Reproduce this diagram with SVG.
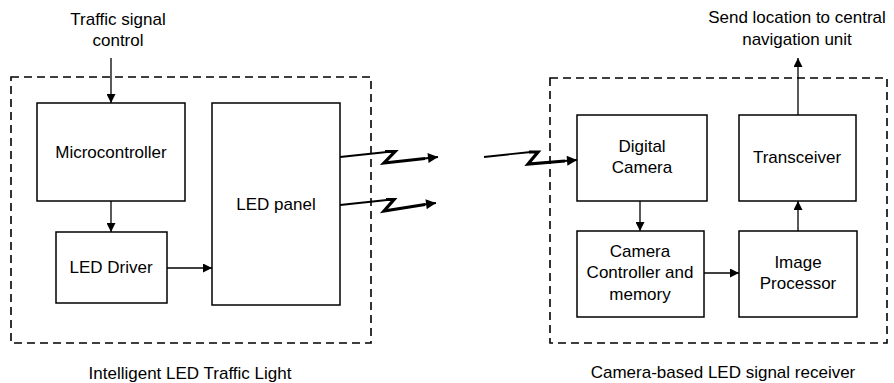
<svg xmlns="http://www.w3.org/2000/svg" width="894" height="383" viewBox="0 0 894 383">
<style>
text{font-family:"Liberation Sans",Arial,sans-serif;font-size:17px;fill:#000;text-anchor:middle}
.box{fill:#fff;stroke:#000;stroke-width:1.5}
.dash{fill:none;stroke:#000;stroke-width:1.6;stroke-dasharray:8 5}
.conn{fill:none;stroke:#000;stroke-width:1.3}
.bolt{fill:none;stroke:#000;stroke-width:1.8}
.zig{fill:none;stroke:#000;stroke-width:3.2;stroke-linejoin:miter}
</style>
<defs>
<marker id="ah" viewBox="0 0 10 10" refX="10" refY="5" markerWidth="9" markerHeight="9" markerUnits="userSpaceOnUse" orient="auto">
<path d="M0,0 L10,5 L0,10 z" fill="#000"/>
</marker>
<marker id="ahb" viewBox="0 0 10 10" refX="10" refY="5" markerWidth="12" markerHeight="10" markerUnits="userSpaceOnUse" orient="auto">
<path d="M0,0 L10,5 L0,10 z" fill="#000"/>
</marker>
</defs>
<rect x="0" y="0" width="894" height="383" fill="#fff"/>
<g id="group-left">
<rect class="dash" x="11" y="77" width="360" height="266"/>
<text x="190" y="379">Intelligent LED Traffic Light</text>
</g>
<g id="group-right">
<rect class="dash" x="550" y="78" width="337" height="265"/>
<text x="723" y="378">Camera-based LED signal receiver</text>
</g>
<g id="input-label"><text x="118" y="25">Traffic signal</text><text x="118" y="46">control</text></g>
<g id="output-label"><text x="797" y="23">Send location to central</text><text x="797" y="45">navigation unit</text></g>
<g id="microcontroller"><rect class="box" x="37" y="103" width="148" height="98"/><text x="111" y="158">Microcontroller</text></g>
<g id="led-driver"><rect class="box" x="56" y="232" width="111" height="71"/><text x="111" y="273">LED Driver</text></g>
<g id="led-panel"><rect class="box" x="212" y="103" width="128" height="202"/><text x="276" y="210">LED panel</text></g>
<g id="digital-camera"><rect class="box" x="577" y="115" width="130" height="86"/><text x="642" y="152">Digital</text><text x="642" y="173">Camera</text></g>
<g id="transceiver"><rect class="box" x="739" y="115" width="117" height="86"/><text x="797" y="163">Transceiver</text></g>
<g id="camera-controller"><rect class="box" x="577" y="231" width="127" height="86"/><text x="640" y="257">Camera</text><text x="640" y="278">Controller and</text><text x="640" y="300">memory</text></g>
<g id="image-processor"><rect class="box" x="739" y="231" width="118" height="86"/><text x="798" y="268">Image</text><text x="798" y="289">Processor</text></g>
<g id="connectors">
<line class="conn" x1="111" y1="58" x2="111" y2="103" marker-end="url(#ah)"/>
<line class="conn" x1="111" y1="201" x2="111" y2="232" marker-end="url(#ah)"/>
<line class="conn" x1="167" y1="268" x2="212" y2="268" marker-end="url(#ah)"/>
<line class="conn" x1="640" y1="201" x2="640" y2="231" marker-end="url(#ah)"/>
<line class="conn" x1="704" y1="273" x2="739" y2="273" marker-end="url(#ah)"/>
<line class="conn" x1="798" y1="231" x2="798" y2="201" marker-end="url(#ah)"/>
<line class="conn" x1="798" y1="115" x2="798" y2="58" marker-end="url(#ah)"/>
<g id="bolt-1">
<polyline class="bolt" points="340,157 387,152"/>
<polyline class="zig" points="385,151.5 395,151.5 384,163 425,158.5"/>
<line class="bolt" x1="424" y1="158.5" x2="438" y2="157" marker-end="url(#ahb)"/>
</g>
<g id="bolt-2">
<polyline class="bolt" points="340,205 387,200"/>
<polyline class="zig" points="386,199.5 394,199.5 384,211 425,204.5"/>
<line class="bolt" x1="424" y1="204.5" x2="436" y2="203" marker-end="url(#ahb)"/>
</g>
<g id="bolt-3">
<polyline class="bolt" points="484,157 531,152"/>
<polyline class="zig" points="529,152 538,152 528,164 565,161"/>
<line class="bolt" x1="564" y1="161" x2="577" y2="160" marker-end="url(#ahb)"/>
</g>
</g>
</svg>
